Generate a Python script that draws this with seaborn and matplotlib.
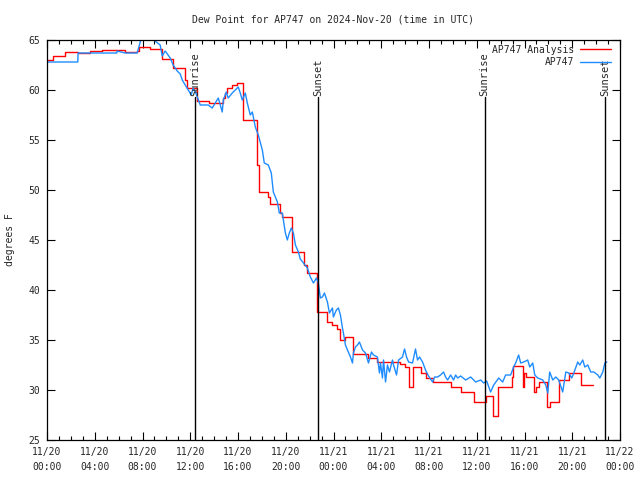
import pandas as pd
import seaborn as sns
import matplotlib.pyplot as plt
import matplotlib.dates as mdates

# hours since 2024-11-20 00:00 UTC
obs_hours = [0, 2.58, 2.60, 5.85, 5.87, 6.54, 7.55, 7.72, 7.97, 9.00,
             9.06, 9.48, 9.65, 9.90, 10.32, 10.57, 10.91, 11.16, 11.33, 11.58,
             11.83, 12.08, 12.25, 12.50, 12.84, 13.51, 13.84, 14.09, 14.35, 14.68,
             14.77, 15.02, 15.18, 15.52, 15.77, 16.02, 16.19, 16.36, 16.61, 16.78,
             17.03, 17.20, 17.45, 17.70, 18.04, 18.20, 18.54, 18.79, 18.96, 19.30,
             19.46, 19.71, 19.80, 19.97, 20.13, 20.30, 20.47, 20.64, 20.81, 21.06,
             21.22, 21.48, 21.81, 22.06, 22.32, 22.57, 22.73, 22.90, 23.07, 23.24,
             23.49, 23.66, 23.91, 23.99, 24.24, 24.41, 24.58, 24.75, 24.83, 25.00,
             25.17, 25.42, 25.59, 25.67, 25.84, 26.01, 26.17, 26.43, 26.68, 26.85,
             26.93, 27.18, 27.35, 27.68, 27.85, 27.94, 28.10, 28.19, 28.36, 28.52,
             28.69, 28.94, 29.03, 29.28, 29.45, 29.78, 29.95, 30.12, 30.29, 30.62,
             30.87, 31.04, 31.21, 31.46, 31.71, 31.96, 32.30, 32.47, 32.72, 32.97,
             33.22, 33.39, 33.56, 33.81, 34.06, 34.23, 34.40, 34.65, 35.07, 35.49,
             35.91, 36.33, 36.58, 36.83, 37.16, 37.42, 37.84, 38.17, 38.42, 38.84,
             39.09, 39.26, 39.51, 39.68, 39.93, 40.27, 40.44, 40.69, 40.86, 41.11,
             41.53, 41.78, 41.95, 42.11, 42.37, 42.62, 42.87, 43.20, 43.46, 43.71,
             43.96, 44.13, 44.46, 44.63, 44.88, 45.05, 45.30, 45.55, 45.81, 46.14,
             46.31, 46.56, 46.73, 46.90]
obs_dewpt = [62.8, 62.8, 63.7, 63.7, 63.9, 63.7, 63.7, 64.4, 65.5, 65.5,
             64.9, 64.5, 63.4, 63.9, 63.2, 62.5, 61.9, 61.6, 61.0, 60.5,
             60.0, 59.5, 60.2, 59.6, 58.5, 58.5, 58.2, 58.7, 59.2, 57.8,
             59.0, 59.8, 59.2, 59.7, 60.0, 60.3, 59.7, 59.0, 59.7, 58.7,
             57.5, 57.8, 56.3, 55.5, 54.0, 52.7, 52.5, 51.7, 49.8, 48.8,
             47.7, 47.7, 47.0, 45.7, 45.0, 45.7, 46.2, 45.7, 44.5, 43.8,
             43.1, 42.7, 42.2, 41.3, 40.7, 41.2, 40.7, 39.2, 39.3, 39.7,
             38.8, 37.7, 38.2, 37.3, 38.0, 38.2, 37.5, 36.2, 35.7, 34.5,
             34.0, 33.3, 32.7, 33.7, 34.3, 34.5, 34.8, 34.0, 33.7, 33.0,
             32.7, 33.8, 33.5, 33.3, 31.7, 32.7, 31.2, 33.0, 30.8, 32.5,
             31.8, 33.0, 32.5, 31.5, 33.0, 33.3, 34.1, 33.3, 32.8, 32.7,
             34.1, 33.0, 33.3, 32.8, 32.0, 31.4, 30.8, 31.3, 31.3, 31.5,
             31.8, 31.3, 31.0, 31.5, 31.0, 31.5, 31.2, 31.4, 31.0, 31.3,
             30.8, 31.0, 30.7, 30.9, 29.8, 30.5, 31.2, 30.8, 31.5, 31.5,
             32.3, 32.7, 33.5, 32.7, 32.8, 33.0, 32.3, 32.7, 31.5, 31.2,
             31.0, 30.5, 29.7, 31.8, 31.0, 31.3, 31.0, 29.8, 31.8, 31.7,
             31.2, 31.7, 32.8, 32.5, 33.0, 32.3, 32.5, 31.8, 31.8, 31.5,
             31.2, 31.8, 32.7, 32.8]

ana_hours = [0, 0.50, 1.51, 2.60, 3.61, 4.61, 6.54, 7.55, 7.72, 8.64,
             9.65, 10.57, 11.58, 11.74, 12.58, 13.59, 14.77, 14.94, 15.10, 15.52,
             15.94, 16.44, 17.62, 17.79, 18.54, 18.71, 19.55, 19.71, 20.55, 21.56,
             21.81, 22.65, 23.49, 23.91, 24.33, 24.58, 25.00, 25.67, 26.85, 27.68,
             29.61, 29.95, 30.29, 30.70, 31.29, 31.71, 32.30, 33.81, 34.65, 35.74,
             36.74, 37.33, 37.75, 38.93, 39.01, 39.85, 39.93, 40.10, 40.77, 40.94,
             41.19, 41.86, 42.11, 42.87, 43.71, 44.71, 45.72]
ana_dewpt = [63.0, 63.4, 63.8, 63.7, 63.9, 64.0, 63.8, 63.9, 64.3, 64.1,
             63.1, 62.2, 61.0, 60.2, 58.9, 58.7, 59.2, 59.7, 60.2, 60.5,
             60.7, 57.0, 52.5, 49.8, 49.3, 48.6, 47.7, 47.3, 43.8, 42.5,
             41.7, 37.8, 36.8, 36.5, 36.1, 35.0, 35.3, 33.6, 33.2, 32.8,
             32.6, 32.3, 30.3, 32.3, 31.7, 31.2, 30.8, 30.3, 29.8, 28.8,
             29.4, 27.4, 30.3, 31.3, 32.4, 30.3, 31.7, 31.3, 29.8, 30.3,
             30.8, 28.3, 28.8, 31.0, 31.7, 30.5, 30.5]

sun_labels = ['Sunrise', 'Sunset', 'Sunrise', 'Sunset']
sun_hours = [12.42, 22.73, 36.66, 46.73]

start = pd.Timestamp('2024-11-20 00:00')
obs = pd.DataFrame({'time': start + pd.to_timedelta(obs_hours, unit='h'), 'dewpt': obs_dewpt})
ana = pd.DataFrame({'time': start + pd.to_timedelta(ana_hours, unit='h'), 'dewpt': ana_dewpt})

sns.set_style('ticks')
plt.rcParams['font.family'] = ['DejaVu Sans Mono']
fs = 7

fig = plt.figure(figsize=(6.4, 4.8), dpi=100)
ax = fig.add_axes([47 / 640, 40 / 480, 573 / 640, 400 / 480])

sns.lineplot(data=ana, x='time', y='dewpt', color='red', lw=1.0, drawstyle='steps-post',
             estimator=None, sort=False, label='AP747 Analysis', ax=ax)
sns.lineplot(data=obs, x='time', y='dewpt', color='#1e8cff', lw=1.0,
             estimator=None, sort=False, label='AP747', ax=ax)

ax.set_ylim(25, 65)
ax.set_xlim(start, start + pd.Timedelta(hours=48))
ax.set_yticks(range(25, 66, 5))
ax.xaxis.set_major_locator(mdates.HourLocator(byhour=range(0, 24, 4)))
ax.xaxis.set_minor_locator(mdates.HourLocator())
ax.xaxis.set_major_formatter(mdates.DateFormatter('%m/%d\n%H:%M'))
ax.tick_params(which='both', direction='in', top=True, right=True, labelsize=fs, color='black', width=0.8)
ax.tick_params(which='major', length=6, pad=5)
ax.tick_params(which='minor', length=3)
for lab in ax.get_xticklabels():
    lab.set_linespacing(1.6)
for s in ax.spines.values():
    s.set_color('black')
    s.set_linewidth(0.9)

for t, lab in zip(sun_hours, sun_labels):
    tt = start + pd.Timedelta(hours=t)
    ax.axvline(tt, ymax=(59.3 - 25) / 40, color='black', lw=1.0)
    ax.text(tt, 59.4, lab, rotation=90, ha='center', va='bottom', fontsize=7.5)

ax.set_xlabel('')
ax.set_ylabel('')
fig.text(10 / 640, 0.5, 'degrees F', rotation=90, ha='center', va='center', fontsize=fs)
fig.text(333 / 640, 1 - 19 / 480, 'Dew Point for AP747 on 2024-Nov-20 (time in UTC)',
         ha='center', va='center', fontsize=fs)

ax.legend(loc='upper right', bbox_to_anchor=(1.0, 1.01), frameon=False, markerfirst=False,
          handlelength=3.2, handletextpad=0.6, labelspacing=0.25, fontsize=fs)

fig.savefig('out.png', dpi=100)
